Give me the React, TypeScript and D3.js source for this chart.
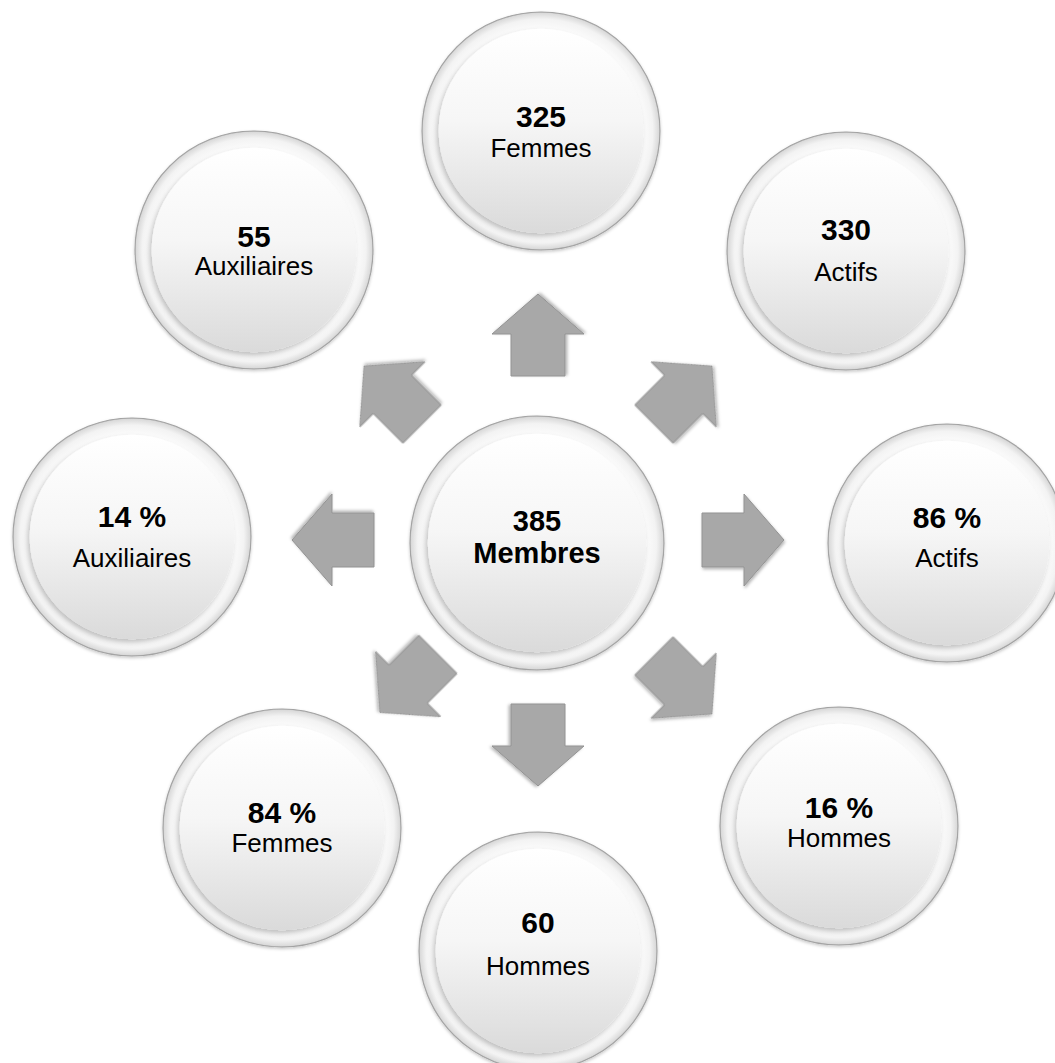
import React from "react";
import * as d3 from "d3";

// Hub figure
const totalValue = 385;
const totalLabel = "Membres";

// Satellite figures, clockwise from the top
const values = [325, 330, 86, 16, 60, 84, 14, 55];
const units = ["", "", " %", " %", "", " %", " %", ""];
const labels = ["Femmes", "Actifs", "Actifs", "Hommes", "Hommes", "Femmes", "Auxiliaires", "Auxiliaires"];

// Layout of the satellites (hub-relative), clockwise from the top
const slotCenters: [number, number][] = [
  [4, -412], [309, -292], [410, 0], [302, 283],
  [1, 408], [-255, 285], [-405, -6], [-283, -293],
];
// Baseline offsets of the value line and the caption line in each bubble
const lineOffsets: [number, number][] = [
  [-4, 26], [-11, 30], [-15, 24], [-8, 21],
  [-18, 24], [-5, 24], [-10, 30], [-3, 25],
];
// Small radial / angular nudges of each arrow from its nominal placement
const arrowRadialNudge = [0, 0, 0, 0, 0, -12, 0, 0];
const arrowAngleNudge = [0, 0, 0, 0, 0, -3, 0, 0];

const W = 1055;
const H = 1063;
const hub = { x: 537, y: 543 };
const hubR = 127;
const satR = 119;
const arrowHub = { x: 538, y: 540 };
const arrowDist = 205;

// Block arrow pointing along +x, centred on the origin
const arrowPts: [number, number][] = [
  [-41, -27], [1, -27], [1, -46], [41, 0], [1, 46], [1, 27], [-41, 27],
];
const arrowPath = d3.line().curve(d3.curveLinearClosed)(arrowPts) as string;

const angle = d3.scaleLinear().domain([0, 8]).range([-90, 270]);

function Bubble({ x, y, r }: { x: number; y: number; r: number }) {
  return (
    <g transform={`translate(${x},${y})`}>
      <circle r={r} fill="url(#ringGrad)" stroke="#a3a3a3" strokeWidth={1.1} filter="url(#outerShadow)" />
      <circle r={r * 0.86} fill="url(#discGrad)" filter="url(#discShadow)" />
    </g>
  );
}

export default function App() {
  const fam = "'Liberation Sans', Arial, sans-serif";
  return (
    <svg
      width={W}
      height={H}
      viewBox={`0 0 ${W} ${H}`}
      style={{ position: "absolute", left: 0, top: 0, background: "#ffffff" }}
    >
      <defs>
        <radialGradient id="ringGrad" cx="0.5" cy="0.5" r="0.5">
          <stop offset="0" stopColor="#ffffff" />
          <stop offset="0.84" stopColor="#fdfdfd" />
          <stop offset="0.94" stopColor="#f3f3f3" />
          <stop offset="0.99" stopColor="#dadada" />
          <stop offset="1" stopColor="#bdbdbd" />
        </radialGradient>
        <linearGradient id="discGrad" x1="0" y1="0" x2="0" y2="1">
          <stop offset="0" stopColor="#ffffff" />
          <stop offset="0.45" stopColor="#f6f6f6" />
          <stop offset="1" stopColor="#dadada" />
        </linearGradient>
        <filter id="outerShadow" x="-20%" y="-20%" width="140%" height="140%">
          <feDropShadow dx="0" dy="1.5" stdDeviation="1.5" floodColor="#000" floodOpacity="0.22" />
        </filter>
        <filter id="discShadow" x="-20%" y="-20%" width="140%" height="140%">
          <feDropShadow dx="-2" dy="3" stdDeviation="2.5" floodColor="#000" floodOpacity="0.24" />
        </filter>
        <filter id="arrowShadow" x="-30%" y="-30%" width="160%" height="160%">
          <feDropShadow dx="1" dy="2" stdDeviation="1.5" floodColor="#000" floodOpacity="0.28" />
        </filter>
      </defs>

      {/* arrows radiating from the hub */}
      {d3.range(8).map((i) => {
        const a = angle(i);
        const rad = ((a + arrowAngleNudge[i]) * Math.PI) / 180;
        const d = arrowDist + arrowRadialNudge[i];
        const x = arrowHub.x + d * Math.cos(rad);
        const y = arrowHub.y + d * Math.sin(rad);
        return (
          <path
            key={`arrow-${i}`}
            d={arrowPath}
            transform={`translate(${x},${y}) rotate(${a})`}
            fill="#a8a8a8"
            stroke="#939393"
            strokeWidth={1}
            filter="url(#arrowShadow)"
          />
        );
      })}

      {/* hub bubble */}
      <Bubble x={hub.x} y={hub.y} r={hubR} />
      <text x={hub.x} y={hub.y - 12} textAnchor="middle" fontFamily={fam} fontWeight="bold" fontSize={29} fill="#000">
        {totalValue}
      </text>
      <text x={hub.x} y={hub.y + 20} textAnchor="middle" fontFamily={fam} fontWeight="bold" fontSize={29} fill="#000">
        {totalLabel}
      </text>

      {/* satellite bubbles */}
      {values.map((v, i) => {
        const cx = hub.x + slotCenters[i][0];
        const cy = hub.y + slotCenters[i][1];
        return (
          <g key={`sat-${i}`}>
            <Bubble x={cx} y={cy} r={satR} />
            <text x={cx} y={cy + lineOffsets[i][0]} textAnchor="middle" fontFamily={fam} fontWeight="bold" fontSize={30} fill="#000">
              {`${v}${units[i]}`}
            </text>
            <text x={cx} y={cy + lineOffsets[i][1]} textAnchor="middle" fontFamily={fam} fontSize={26} fill="#000">
              {labels[i]}
            </text>
          </g>
        );
      })}
    </svg>
  );
}
